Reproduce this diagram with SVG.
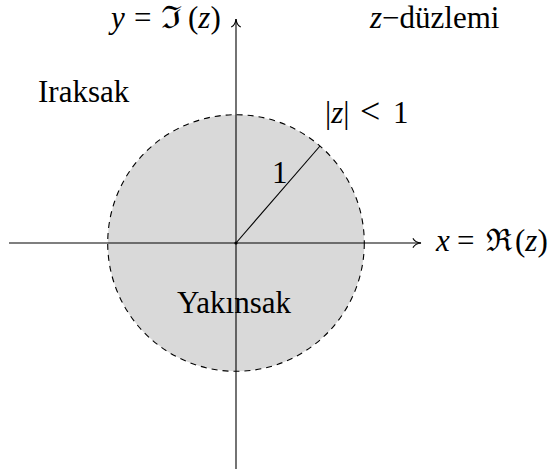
<svg xmlns="http://www.w3.org/2000/svg" width="548" height="476" viewBox="0 0 548 476">
<defs>
<style>
text{font-family:"Liberation Serif","Times New Roman",serif;font-size:31px;fill:#000}
.it{font-style:italic}
.fr{font-family:"DejaVu Serif","Liberation Serif",serif;font-size:31px}
.ax{stroke:#000;stroke-width:1.1;fill:none}
</style>
<marker id="to" markerWidth="12" markerHeight="12" refX="0" refY="0" viewBox="-8 -5 10 10" orient="auto" markerUnits="userSpaceOnUse">
<path d="M-6.5,-3.6 C-5.2,-1.2 -2.4,-0.3 0,0 C-2.4,0.3 -5.2,1.2 -6.5,3.6" fill="none" stroke="#000" stroke-width="1" stroke-linecap="round"/>
</marker>
</defs>
<rect width="548" height="476" fill="#fff"/>
<g id="disk">
<circle cx="236" cy="243" r="128.3" fill="#d9d9d9" stroke="#000" stroke-width="1.1" stroke-dasharray="6 5"/>
</g>
<g id="label-yakinsak"><text x="177" y="313">Yakınsak</text></g>
<g id="label-iraksak"><text x="38" y="102">Iraksak</text></g>
<g id="label-plane"><text x="370" y="28"><tspan class="it">z</tspan><tspan>−düzlemi</tspan></text></g>
<g id="label-radius"><text x="272" y="182.5">1</text></g>
<g id="label-abs">
<text x="325" y="122.5">|<tspan class="it">z</tspan>|</text>
<text x="360" y="123" style="font-size:36px">&lt;</text>
<text x="393" y="122.5">1</text>
</g>
<g id="label-yaxis">
<text x="111" y="28" class="it">y</text>
<text x="134" y="28">=</text>
<text class="fr" transform="translate(161,28) scale(1.22,1)">ℑ</text>
<text x="188" y="28">(<tspan class="it">z</tspan>)</text>
</g>
<g id="label-xaxis">
<text x="436" y="251" class="it">x</text>
<text x="457" y="251">=</text>
<text x="486" y="251" class="fr">ℜ</text>
<text x="515" y="251">(<tspan class="it">z</tspan>)</text>
</g>
<g id="connectors">
<line class="ax" x1="9" y1="243" x2="421" y2="243" marker-end="url(#to)"/>
<line class="ax" x1="236" y1="469" x2="236" y2="19" marker-end="url(#to)"/>
<line class="ax" x1="236" y1="243" x2="320" y2="146"/>
<circle cx="236" cy="243" r="1.6" fill="#000"/>
</g>
</svg>
